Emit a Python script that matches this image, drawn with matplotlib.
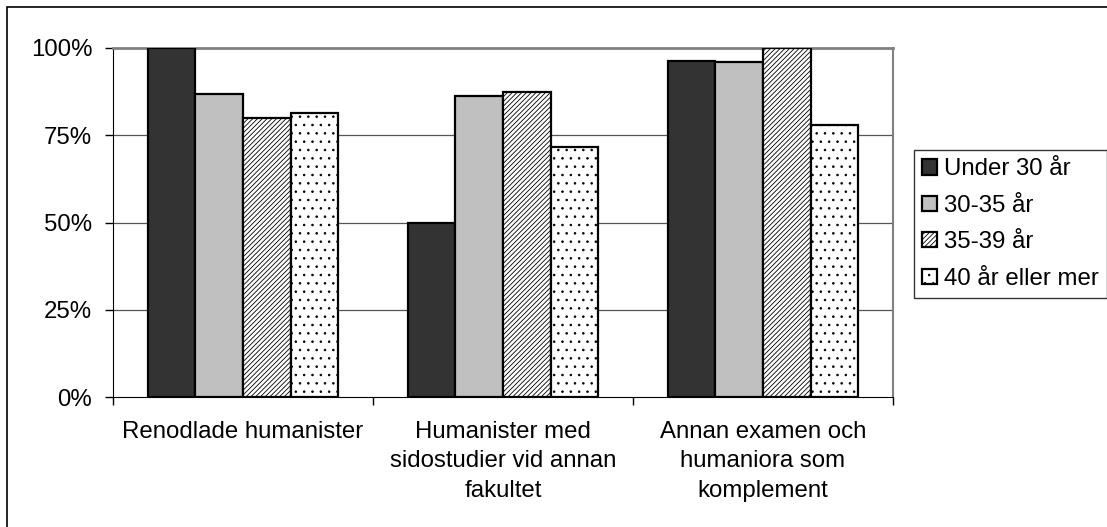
import numpy as np
import matplotlib.pyplot as plt
from matplotlib.patches import Rectangle

plt.rcParams['font.family'] = ['Liberation Sans', 'DejaVu Sans']
plt.rcParams['hatch.linewidth'] = 0.6

# data
categories = ['Renodlade humanister',
              'Humanister med\nsidostudier vid annan\nfakultet',
              'Annan examen och\nhumaniora som\nkomplement']
series_names = ['Under 30 år', '30-35 år', '35-39 år', '40 år eller mer']
under30 = [100, 50, 96.4]
age30_35 = [86.7, 86.2, 96.0]
age35_39 = [80.0, 87.5, 100]
age40 = [81.3, 71.5, 77.8]
yticks = [0, 25, 50, 75, 100]
ytick_labels = ['0%', '25%', '50%', '75%', '100%']

values = [under30, age30_35, age35_39, age40]
faces = ['#333333', '#c0c0c0', 'white', 'white']
hatches = [None, None, '///////', '..']

fs = 17.3

fig = plt.figure(figsize=(11.07, 5.27), dpi=100)
ax = fig.add_axes([113/1107, 1 - 397/527, (893-113)/1107, (397-48)/527])

x = np.arange(len(categories))
w = 0.183
for i in range(4):
    ax.bar(x + (i - 1.5)*w, values[i], width=w, color=faces[i], edgecolor='black',
           linewidth=1.6, hatch=hatches[i], label=series_names[i], zorder=3)

ax.set_xlim(-0.5, 2.5)
ax.set_ylim(0, 100)
ax.set_yticks(yticks)
ax.set_yticklabels(ytick_labels, fontsize=fs)
for y in yticks[1:-1]:
    ax.axhline(y, color='#555555', linewidth=0.9, zorder=1)

ax.set_xticks([-0.5, 0.5, 1.5, 2.5])
ax.set_xticklabels([])
ax.set_xticks(x, minor=True)
ax.set_xticklabels(categories, minor=True, fontsize=fs, linespacing=1.45)
ax.tick_params(axis='x', which='minor', length=0, pad=17)
ax.tick_params(axis='x', which='major', direction='out', length=6, width=1)
ax.tick_params(axis='y', direction='out', length=6, width=1, pad=9)

ax.spines['left'].set_color('black')
ax.spines['bottom'].set_color('black')
ax.spines['top'].set_color('#808080')
ax.spines['top'].set_linewidth(2)
ax.spines['right'].set_color('#808080')
ax.spines['right'].set_linewidth(1.5)

leg = fig.legend(loc='upper left', bbox_to_anchor=(914/1107, 1 - 150/527),
                 borderaxespad=0, fontsize=fs, frameon=True, fancybox=False,
                 edgecolor='black', handlelength=0.6, handleheight=0.6,
                 handletextpad=0.3, labelspacing=0.6, borderpad=0.35)
leg.get_frame().set_linewidth(1)

fig.patches.append(Rectangle((7/1107, -0.1), 1.2, 1.1 - 7/527, transform=fig.transFigure,
                             fill=False, edgecolor='black', linewidth=1.2))

fig.savefig('out.png', dpi=100)
